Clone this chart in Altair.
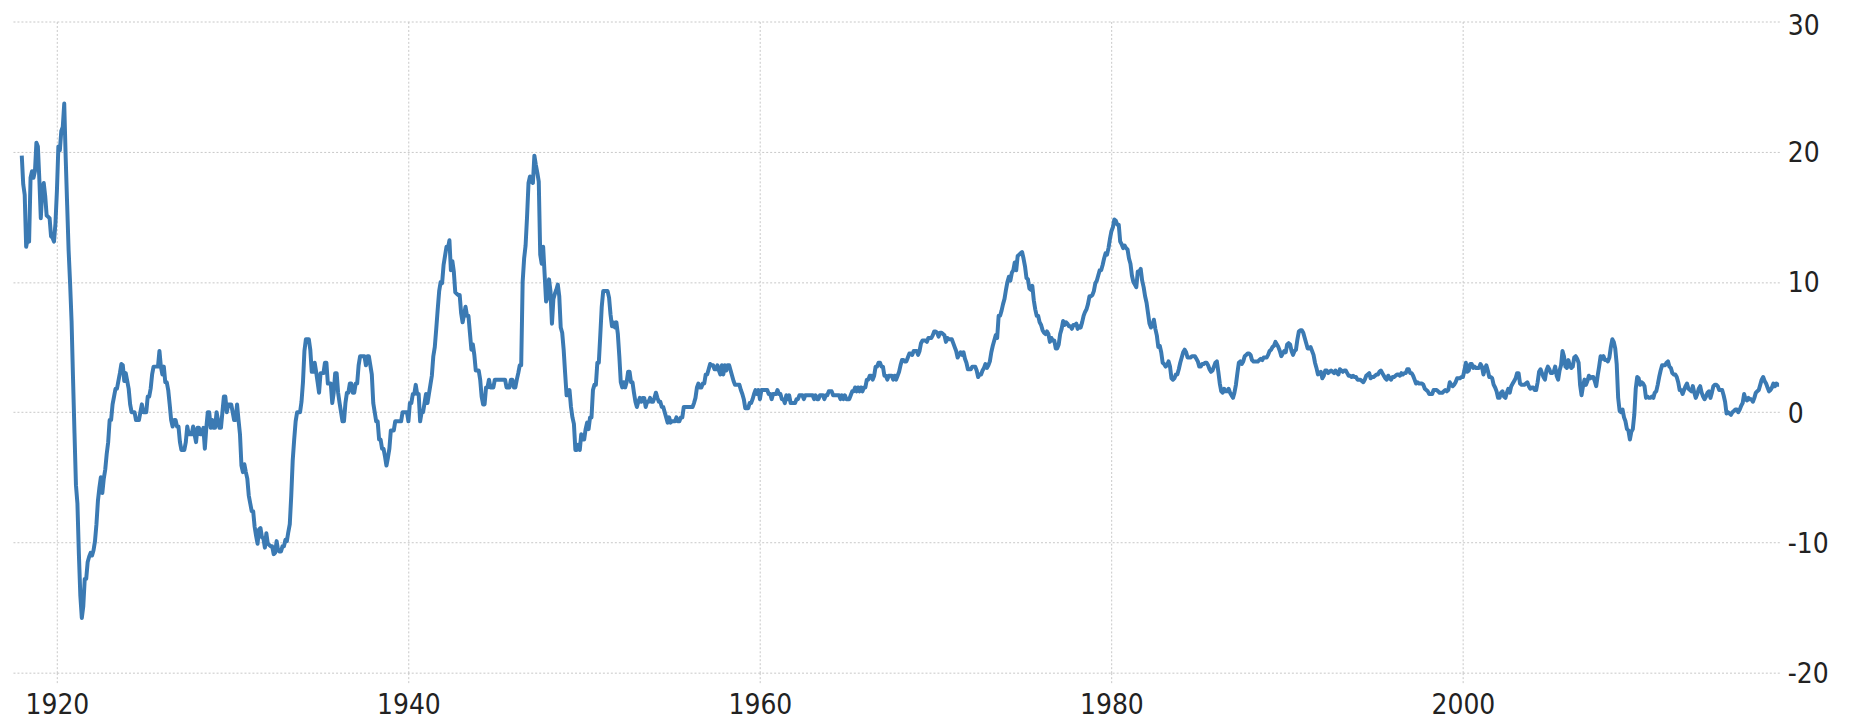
import altair as alt
import pandas as pd

# Monthly year-over-year inflation (%), Jan 1918 .. Jan 2018
infl_1918_1929 = [
    19.7, 17.5, 16.7, 12.7, 13.3, 13.1, 18.0, 18.5, 18.0, 18.5, 20.7, 20.4,
    17.9, 14.9, 17.1, 17.6, 16.6, 15.1, 15.0, 14.9, 13.5, 13.4, 13.1, 14.5,
    17.0, 20.4, 20.1, 21.6, 21.9, 23.7, 19.5, 15.9, 12.4, 9.9, 7.0, 2.6,
    -1.6, -5.6, -7.0, -10.9, -14.1, -15.8, -14.9, -12.8, -12.8, -11.5, -11.1, -10.8,
    -11.0, -10.6, -9.9, -8.6, -6.8, -5.8, -5.0, -6.2, -5.1, -4.4, -3.2, -2.3,
    -0.6, -0.6, 0.6, 1.2, 1.8, 1.8, 2.4, 3.0, 3.7, 3.6, 2.4, 3.0,
    2.4, 1.8, 0.6, 0.0, 0.0, 0.0, -0.6, -0.6, -0.6, 0.0, 0.6, 0.0,
    0.0, 0.0, 1.2, 1.2, 1.8, 2.9, 3.5, 3.5, 3.5, 3.5, 4.7, 3.5,
    2.9, 3.5, 2.3, 2.3, 1.7, 0.6, -0.6, -1.1, -0.6, -0.6, -1.1, -1.1,
    -2.3, -2.9, -2.9, -2.9, -2.3, -1.1, -1.7, -1.7, -1.7, -1.1, -1.7, -2.3,
    -1.2, -1.2, -1.7, -1.7, -1.2, -2.8, -1.2, 0.0, 0.0, -1.2, -0.6, -1.2,
    -1.2, 0.0, -0.6, -1.2, -1.2, 0.0, 1.2, 1.2, 0.0, 0.6, 0.6, 0.6,
]
infl_1930s = [
    0.0, -0.6, -0.6, 0.6, -0.6, -1.7, -4.1, -4.6, -4.0, -4.6, -5.1, -6.4,
    -7.0, -7.6, -7.6, -8.8, -9.5, -10.1, -9.0, -8.9, -9.6, -9.7, -10.4, -9.3,
    -10.1, -10.2, -10.3, -10.3, -10.9, -10.8, -9.9, -10.6, -10.7, -10.7, -10.3, -10.3,
    -9.8, -9.9, -9.2, -8.6, -6.4, -3.7, -2.1, -0.7, 0.0, 0.0, 0.0, 0.8,
    2.3, 4.7, 5.6, 5.6, 5.6, 4.8, 3.1, 3.1, 3.8, 3.1, 2.3, 1.5,
    3.0, 3.0, 3.0, 3.8, 3.8, 2.2, 2.2, 2.2, 0.7, 1.5, 3.0, 3.0,
    1.5, 0.7, 0.0, -0.7, -0.7, 0.7, 1.5, 1.5, 2.2, 2.2, 1.5, 1.5,
    2.2, 2.2, 3.6, 4.3, 4.3, 4.3, 4.3, 3.6, 4.3, 4.3, 3.6, 2.9,
    0.7, 0.0, -0.7, -0.7, -2.1, -2.1, -2.8, -2.8, -3.4, -4.1, -3.5, -2.8,
    -1.4, -1.4, -1.4, -0.7, -0.7, -0.7, -0.7, -0.7, 0.0, 0.0, 0.0, 0.0,
]
infl_1940s = [
    -0.7, 0.7, 0.7, 1.4, 1.4, 2.1, 1.4, 1.4, -0.7, 0.0, 0.0, 0.7,
    1.4, 0.7, 1.4, 2.1, 2.8, 4.3, 5.0, 6.4, 7.9, 9.3, 10.0, 9.9,
    11.3, 12.0, 12.7, 12.6, 13.2, 10.9, 11.6, 10.8, 9.2, 9.1, 9.0, 9.0,
    7.6, 6.9, 7.5, 8.1, 7.4, 7.4, 6.1, 4.8, 5.2, 4.4, 3.2, 3.2,
    3.2, 2.5, 1.2, 0.6, 0.6, 1.9, 1.9, 2.5, 1.9, 1.9, 1.9, 2.5,
    2.5, 2.5, 2.5, 2.5, 2.5, 2.5, 2.5, 1.9, 1.9, 1.9, 2.5, 2.5,
    1.9, 1.9, 2.5, 3.0, 3.6, 3.6, 10.0, 11.8, 12.8, 15.0, 17.6, 18.1,
    17.7, 17.6, 19.7, 19.0, 18.4, 17.7, 12.1, 11.4, 12.7, 10.6, 8.5, 8.8,
    10.2, 9.3, 6.8, 8.7, 9.1, 9.4, 9.8, 8.9, 6.5, 6.1, 4.8, 3.0,
    1.3, 1.3, 1.7, 0.4, -0.4, -0.9, -2.9, -2.9, -2.5, -2.9, -1.7, -2.1,
]
infl_1950s = [
    -2.1, -1.3, -0.8, -1.3, -0.4, -0.4, 1.7, 2.1, 2.1, 3.8, 3.8, 5.9,
    8.1, 9.3, 9.3, 9.3, 9.3, 8.8, 7.5, 6.6, 6.9, 6.5, 6.9, 6.0,
    4.3, 2.3, 1.9, 2.3, 1.9, 2.3, 3.1, 3.1, 2.3, 2.3, 1.5, 0.8,
    0.4, 0.8, 1.1, 0.8, 1.1, 1.1, 0.4, 0.8, 0.8, 1.1, 0.8, 0.8,
    1.1, 1.5, 1.1, 0.8, 0.8, 0.4, 0.4, 0.0, -0.4, -0.8, -0.4, -0.8,
    -0.7, -0.7, -0.7, -0.4, -0.7, -0.7, -0.4, -0.4, 0.4, 0.4, 0.4, 0.4,
    0.4, 0.4, 0.4, 0.7, 1.1, 1.9, 2.2, 1.9, 1.9, 2.2, 2.2, 2.9,
    2.9, 3.3, 3.7, 3.6, 3.6, 3.3, 3.3, 3.6, 3.2, 2.9, 3.6, 2.9,
    3.6, 3.2, 3.6, 3.6, 3.2, 2.8, 2.4, 2.1, 2.1, 2.1, 2.1, 1.7,
    1.4, 1.0, 0.3, 0.3, 0.3, 0.7, 0.7, 1.0, 1.4, 1.7, 1.4, 1.7,
]
infl_1960s = [
    1.0, 1.7, 1.7, 1.7, 1.7, 1.7, 1.4, 1.4, 1.0, 1.4, 1.4, 1.4,
    1.7, 1.4, 1.4, 1.0, 1.0, 0.7, 1.3, 1.0, 1.3, 0.7, 0.7, 0.7,
    0.7, 1.0, 1.0, 1.3, 1.3, 1.3, 1.0, 1.3, 1.3, 1.3, 1.3, 1.3,
    1.3, 1.0, 1.3, 1.0, 1.0, 1.3, 1.3, 1.3, 1.0, 1.3, 1.3, 1.6,
    1.6, 1.6, 1.3, 1.3, 1.3, 1.3, 1.3, 1.0, 1.3, 1.0, 1.3, 1.0,
    1.0, 1.0, 1.3, 1.6, 1.6, 1.9, 1.6, 1.9, 1.6, 1.9, 1.6, 1.9,
    1.9, 2.5, 2.5, 2.8, 2.8, 2.5, 2.8, 3.5, 3.5, 3.8, 3.8, 3.5,
    3.5, 2.8, 2.8, 2.5, 2.8, 2.8, 2.8, 2.5, 2.8, 2.5, 2.8, 3.1,
    3.6, 4.0, 4.0, 3.9, 3.9, 4.2, 4.5, 4.5, 4.4, 4.7, 4.7, 4.7,
    4.4, 4.7, 5.3, 5.5, 5.5, 5.5, 5.4, 5.7, 5.7, 5.7, 5.9, 6.2,
]
infl_1970s = [
    6.2, 6.1, 5.8, 6.1, 6.1, 6.0, 5.9, 5.4, 5.7, 5.6, 5.6, 5.6,
    5.3, 5.0, 4.7, 4.2, 4.4, 4.6, 4.4, 4.6, 4.1, 3.8, 3.3, 3.3,
    3.3, 3.5, 3.5, 3.5, 3.2, 2.7, 2.9, 2.9, 3.2, 3.4, 3.7, 3.4,
    3.6, 3.9, 4.6, 5.1, 5.5, 5.9, 5.7, 7.4, 7.4, 7.8, 8.3, 8.7,
    9.4, 10.0, 10.4, 10.1, 10.7, 10.9, 11.5, 10.9, 12.0, 12.1, 12.2, 12.3,
    11.8, 11.2, 10.3, 10.2, 9.5, 9.4, 9.7, 8.6, 7.9, 7.4, 7.4, 6.9,
    6.7, 6.3, 6.1, 6.0, 6.2, 6.0, 5.4, 5.7, 5.5, 5.5, 4.9, 4.9,
    5.2, 6.0, 6.4, 7.0, 6.7, 6.9, 6.8, 6.6, 6.6, 6.4, 6.7, 6.7,
    6.8, 6.4, 6.6, 6.5, 6.9, 7.4, 7.7, 7.9, 8.3, 8.9, 8.9, 9.0,
    9.3, 9.9, 10.1, 10.5, 10.9, 10.9, 11.3, 11.8, 12.2, 12.1, 12.6, 13.3,
]
infl_1980s = [
    13.9, 14.2, 14.8, 14.7, 14.4, 14.4, 13.1, 12.9, 12.6, 12.8, 12.6, 12.5,
    11.8, 11.4, 10.5, 10.0, 9.8, 9.6, 10.8, 10.8, 11.0, 10.1, 9.6, 8.9,
    8.4, 7.6, 6.8, 6.5, 6.7, 7.1, 6.4, 5.9, 5.0, 5.1, 4.6, 3.8,
    3.7, 3.5, 3.6, 3.9, 3.5, 2.6, 2.5, 2.6, 2.9, 2.9, 3.3, 3.8,
    4.2, 4.6, 4.8, 4.6, 4.2, 4.2, 4.2, 4.3, 4.3, 4.3, 4.1, 3.9,
    3.5, 3.5, 3.7, 3.7, 3.8, 3.8, 3.6, 3.3, 3.1, 3.2, 3.5, 3.8,
    3.9, 3.1, 2.2, 1.6, 1.5, 1.8, 1.6, 1.6, 1.8, 1.5, 1.3, 1.1,
    1.5, 2.1, 3.0, 3.8, 3.9, 3.7, 3.9, 4.3, 4.4, 4.5, 4.5, 4.4,
    4.0, 3.9, 3.9, 3.9, 3.9, 4.0, 4.1, 4.0, 4.2, 4.2, 4.2, 4.4,
    4.7, 4.8, 5.0, 5.1, 5.4, 5.2, 5.0, 4.7, 4.3, 4.5, 4.7, 4.6,
]
infl_1990s = [
    5.2, 5.3, 5.2, 4.7, 4.4, 4.7, 4.8, 5.6, 6.2, 6.3, 6.3, 6.1,
    5.7, 5.3, 4.9, 4.9, 5.0, 4.7, 4.4, 3.8, 3.4, 2.9, 3.0, 3.1,
    2.6, 2.8, 3.2, 3.2, 3.0, 3.1, 3.2, 3.1, 3.0, 3.2, 3.0, 2.9,
    3.3, 3.2, 3.1, 3.2, 3.2, 3.0, 2.8, 2.8, 2.7, 2.8, 2.7, 2.7,
    2.5, 2.5, 2.5, 2.4, 2.3, 2.5, 2.8, 2.9, 3.0, 2.6, 2.7, 2.7,
    2.8, 2.9, 2.9, 3.1, 3.2, 3.0, 2.8, 2.6, 2.5, 2.8, 2.6, 2.5,
    2.7, 2.7, 2.8, 2.9, 2.9, 2.8, 3.0, 2.9, 3.0, 3.0, 3.3, 3.3,
    3.0, 3.0, 2.8, 2.5, 2.2, 2.3, 2.2, 2.2, 2.2, 2.1, 1.8, 1.7,
    1.6, 1.4, 1.4, 1.4, 1.7, 1.7, 1.7, 1.6, 1.5, 1.5, 1.5, 1.6,
    1.7, 1.6, 1.7, 2.3, 2.1, 2.0, 2.1, 2.3, 2.6, 2.6, 2.6, 2.7,
]
infl_2000s = [
    2.7, 3.2, 3.8, 3.1, 3.2, 3.7, 3.7, 3.4, 3.5, 3.4, 3.4, 3.4,
    3.7, 3.5, 2.9, 3.3, 3.6, 3.2, 2.7, 2.7, 2.6, 2.1, 1.9, 1.6,
    1.1, 1.1, 1.5, 1.6, 1.2, 1.1, 1.5, 1.8, 1.5, 2.0, 2.2, 2.4,
    2.6, 3.0, 3.0, 2.2, 2.1, 2.1, 2.1, 2.2, 2.3, 2.0, 1.8, 1.9,
    1.9, 1.7, 1.7, 2.3, 3.1, 3.3, 3.0, 2.7, 2.5, 3.2, 3.5, 3.3,
    3.0, 3.0, 3.1, 3.5, 2.8, 2.5, 3.2, 3.6, 4.7, 4.3, 3.5, 3.4,
    4.0, 3.6, 3.4, 3.5, 4.2, 4.3, 4.1, 3.8, 2.1, 1.3, 2.0, 2.5,
    2.1, 2.4, 2.8, 2.6, 2.7, 2.7, 2.4, 2.0, 2.8, 3.5, 4.3, 4.1,
    4.3, 4.0, 4.0, 3.9, 4.2, 5.0, 5.6, 5.4, 4.9, 3.7, 1.1, 0.1,
    0.0, 0.2, -0.4, -0.7, -1.3, -1.4, -2.1, -1.5, -1.3, -0.2, 1.8, 2.7,
]
infl_2010_2018 = [
    2.6, 2.1, 2.3, 2.2, 2.0, 1.1, 1.2, 1.1, 1.1, 1.2, 1.1, 1.5,
    1.6, 2.1, 2.7, 3.2, 3.6, 3.6, 3.6, 3.8, 3.9, 3.5, 3.4, 3.0,
    2.9, 2.9, 2.7, 2.3, 1.7, 1.7, 1.4, 1.7, 2.0, 2.2, 1.8, 1.7,
    1.6, 2.0, 1.5, 1.1, 1.4, 1.8, 2.0, 1.5, 1.2, 1.0, 1.2, 1.5,
    1.6, 1.1, 1.5, 2.0, 2.1, 2.1, 2.0, 1.7, 1.7, 1.7, 1.3, 0.8,
    -0.1, 0.0, -0.1, -0.2, 0.0, 0.1, 0.2, 0.2, 0.0, 0.2, 0.5, 0.7,
    1.4, 1.0, 0.9, 1.1, 1.0, 1.0, 0.8, 1.1, 1.5, 1.6, 1.7, 2.1,
    2.5, 2.7, 2.4, 2.2, 1.9, 1.6, 1.7, 1.9, 2.2, 2.0, 2.2, 2.1,
    2.1,
]

start_year = 1918
x_ticks = [1920, 1940, 1960, 1980, 2000]
y_ticks = [-20, -10, 0, 10, 20, 30]

values = (infl_1918_1929 + infl_1930s + infl_1940s + infl_1950s + infl_1960s
          + infl_1970s + infl_1980s + infl_1990s + infl_2000s + infl_2010_2018)
df = pd.DataFrame({
    "t": [start_year + i / 12 for i in range(len(values))],
    "v": values,
})

grid_color = "#c8c8c8"
label_font = "Liberation Sans Narrow, DejaVu Sans Condensed, Liberation Sans"

chart = alt.Chart(df).mark_line(
    color="#3b7ab3", strokeWidth=4, strokeJoin="round", clip=True
).encode(
    x=alt.X("t:Q",
            scale=alt.Scale(domain=[1917.5, 2018.0], nice=False, zero=False),
            axis=alt.Axis(values=x_ticks, title=None,
                          labelExpr="toString(datum.value)",
                          grid=True, gridDash=[2, 2], gridColor=grid_color,
                          gridWidth=1,
                          ticks=True, tickDash=[2, 2], tickColor=grid_color,
                          tickSize=10, domain=False,
                          labelFont=label_font, labelFontSize=28,
                          labelColor="#222222", labelPadding=9)),
    y=alt.Y("v:Q",
            scale=alt.Scale(domain=[-20, 30], nice=False, zero=False),
            axis=alt.Axis(values=y_ticks, orient="right", title=None,
                          labelExpr="toString(datum.value)",
                          grid=True, gridDash=[2, 2], gridColor=grid_color,
                          gridWidth=1, ticks=False, domain=False,
                          labelFont=label_font, labelFontSize=28,
                          labelColor="#222222", labelPadding=8,
                          labelAlign="left", labelBaseline="middle",
                          labelOffset={"condition": {"test": "datum.value == 30", "value": 5},
                                       "value": 2})),
).properties(
    width=1774, height=654,
    autosize=alt.AutoSizeParams(type="none"),
    padding={"left": 5, "top": 12, "right": 62, "bottom": 50},
).configure(background="white").configure_view(stroke=None)

chart.save("out.html", embed_options={"renderer": "svg", "actions": False})
